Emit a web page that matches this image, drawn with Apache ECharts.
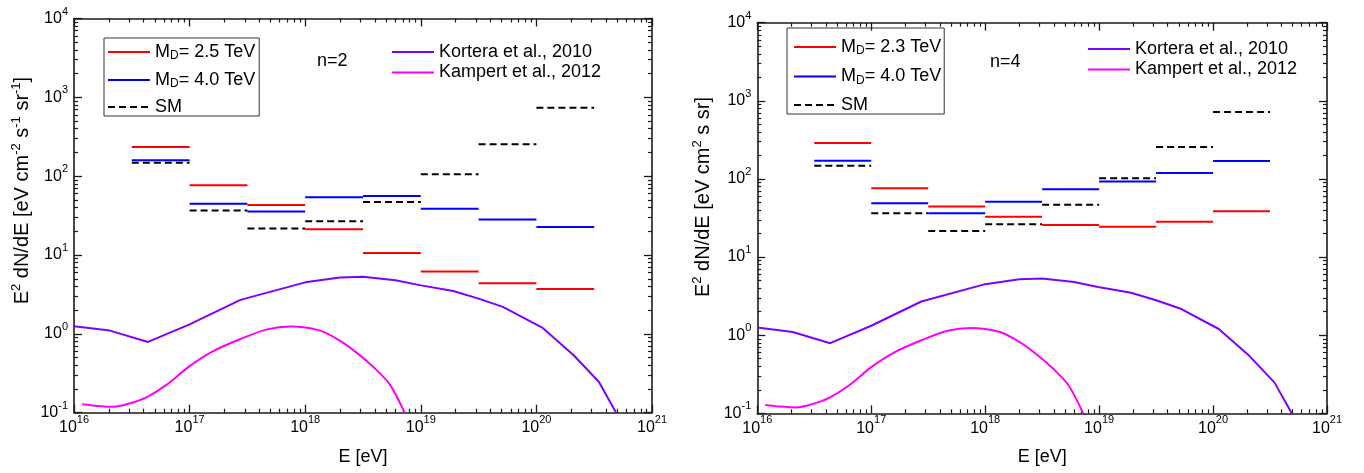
<!DOCTYPE html>
<html>
<head>
<meta charset="utf-8">
<script src="https://cdn.jsdelivr.net/npm/echarts@6/dist/echarts.min.js"></script>
<style>
  html, body { margin: 0; padding: 0; background: #fff; }
  #main { width: 1364px; height: 473px; }
</style>
</head>
<body>
<div id="main"></div>
<script>
// bin edges in log10(E/eV)
var binEdges = [16.5, 17, 17.5, 18, 18.5, 19, 19.5, 20, 20.5];

// n=2 panel
var n2Md25 = [234, 77, 43, 21.3, 10.6, 6.2, 4.4, 3.7];
var n2Md40 = [159, 44.6, 35.7, 54, 56, 38.5, 28.3, 22.6];
var n2Sm = [148, 36.8, 21.7, 26.9, 47, 106, 255, 738];

// n=4 panel
var n4Md23 = [288, 76, 44.5, 32.8, 25.7, 24.5, 28.3, 38.5];
var n4Md40 = [171, 48.7, 36.3, 51, 73.6, 93, 119, 170];
var n4Sm = [148, 36.3, 21.5, 26.3, 46.8, 102, 257, 720];

// reference fluxes (log10 E, value)
var korteraLogE = [16.0, 16.31, 16.64, 17.0, 17.44, 18.0, 18.3, 18.5, 18.78, 18.99, 19.28, 19.5, 19.71, 20.05, 20.32, 20.54, 20.69];
var korteraVal = [1.25, 1.1, 0.79, 1.32, 2.7, 4.5, 5.2, 5.3, 4.8, 4.15, 3.5, 2.8, 2.2, 1.2, 0.54, 0.247, 0.1];
var kampertLogE = [16.07, 16.2, 16.34, 16.48, 16.63, 16.8, 17.0, 17.2, 17.44, 17.67, 17.87, 18.13, 18.3, 18.45, 18.59, 18.73, 18.86];
var kampertVal = [0.128, 0.122, 0.119, 0.131, 0.158, 0.225, 0.39, 0.6, 0.86, 1.14, 1.24, 1.1, 0.82, 0.57, 0.38, 0.23, 0.1];

var xDecades = [16, 17, 18, 19, 20, 21];
var yDecades = [-1, 0, 1, 2, 3, 4];

var FONT = 'Liberation Sans, Arial, sans-serif';

// keep tick values a hair inside the axis extent so the end ticks are not dropped
function majors(decs) {
  var lo = Math.pow(10, decs[0]), hi = Math.pow(10, decs[decs.length - 1]);
  return decs.map(function (d) {
    var v = Math.pow(10, d);
    return Math.min(Math.max(v, lo * (1 + 1e-9)), hi * (1 - 1e-9));
  });
}
function minors(decs) {
  var out = [];
  for (var i = 0; i < decs.length - 1; i++) {
    for (var k = 2; k <= 9; k++) out.push(k * Math.pow(10, decs[i]));
  }
  return out;
}

function binLine(vals) {
  var out = [];
  for (var i = 0; i < vals.length; i++) {
    out.push([Math.pow(10, binEdges[i]), vals[i]]);
    out.push([Math.pow(10, binEdges[i + 1]), vals[i]]);
    if (i < vals.length - 1) out.push([Math.pow(10, binEdges[i + 1]), '-']);
  }
  return out;
}

function curveData(logE, vals) {
  return logE.map(function (e, i) { return [Math.pow(10, e), vals[i]]; });
}

function powLabel(v) {
  var e = Math.round(Math.log(v) / Math.LN10);
  return '{b|10}{s|' + e + '}';
}

var axisColor = '#1a1a1a';

function makeX(gi) {
  var base = {
    gridIndex: gi, type: 'log', logBase: 10, min: 1e16, max: 1e21,
    splitLine: { show: false }
  };
  var line = { show: true, onZero: false, lineStyle: { color: axisColor, width: 1.6 } };
  var noLine = { show: false, onZero: false };
  return [
    Object.assign({}, base, {
      position: 'bottom', axisLine: line,
      axisTick: { inside: true, length: 8, customValues: majors(xDecades), lineStyle: { color: axisColor, width: 1.3 } },
      axisLabel: {
        customValues: majors(xDecades), formatter: powLabel, margin: 6,
        rich: {
          b: { fontSize: 16, lineHeight: 18, fontFamily: FONT, color: '#000' },
          s: { fontSize: 11, lineHeight: 11, padding: [0, 0, 16, 0], fontFamily: FONT, color: '#000' }
        }
      },
      name: 'E [eV]', nameLocation: 'middle', nameGap: 34,
      nameTextStyle: { fontSize: 18, lineHeight: 20, fontFamily: FONT, color: '#000' }
    }),
    Object.assign({}, base, {
      position: 'bottom', axisLine: noLine,
      axisTick: { inside: true, length: 4, customValues: minors(xDecades), lineStyle: { color: axisColor, width: 1.2 } },
      axisLabel: { show: false }
    }),
    Object.assign({}, base, {
      position: 'top', axisLine: line,
      axisTick: { inside: true, length: 8, customValues: majors(xDecades), lineStyle: { color: axisColor, width: 1.3 } },
      axisLabel: { show: false }
    }),
    Object.assign({}, base, {
      position: 'top', axisLine: noLine,
      axisTick: { inside: true, length: 4, customValues: minors(xDecades), lineStyle: { color: axisColor, width: 1.2 } },
      axisLabel: { show: false }
    })
  ];
}

function makeY(gi, nameRich, gap, shift) {
  var base = {
    gridIndex: gi, type: 'log', logBase: 10, min: 0.1, max: 1e4,
    splitLine: { show: false }
  };
  var line = { show: true, onZero: false, lineStyle: { color: axisColor, width: 1.6 } };
  var noLine = { show: false, onZero: false };
  var tx = { fontSize: 20, lineHeight: 22, fontFamily: FONT, color: '#000' };
  var sp = { fontSize: 13, lineHeight: 13, padding: [0, 0, 12, 0], fontFamily: FONT, color: '#000' };
  var first = Object.assign({}, tx, { padding: [0, 0, 0, shift] });
  return [
    Object.assign({}, base, {
      position: 'left', axisLine: line,
      axisTick: { inside: true, length: 8, customValues: majors(yDecades), lineStyle: { color: axisColor, width: 1.3 } },
      axisLabel: {
        customValues: majors(yDecades), formatter: powLabel, margin: 6,
        rich: {
          b: { fontSize: 16, lineHeight: 18, fontFamily: FONT, color: '#000' },
          s: { fontSize: 11, lineHeight: 11, padding: [0, 0, 14, 0], fontFamily: FONT, color: '#000' }
        }
      },
      name: nameRich, nameLocation: 'middle', nameGap: gap,
      nameTextStyle: { rich: { f: first, t: tx, s: sp } }
    }),
    Object.assign({}, base, {
      position: 'left', axisLine: noLine,
      axisTick: { inside: true, length: 4, customValues: minors(yDecades), lineStyle: { color: axisColor, width: 1.2 } },
      axisLabel: { show: false }
    }),
    Object.assign({}, base, {
      position: 'right', axisLine: line,
      axisTick: { inside: true, length: 8, customValues: majors(yDecades), lineStyle: { color: axisColor, width: 1.3 } },
      axisLabel: { show: false }
    }),
    Object.assign({}, base, {
      position: 'right', axisLine: noLine,
      axisTick: { inside: true, length: 4, customValues: minors(yDecades), lineStyle: { color: axisColor, width: 1.2 } },
      axisLabel: { show: false }
    })
  ];
}

function bins(name, vals, color, gi, dashed) {
  return {
    name: name, type: 'line', xAxisIndex: gi * 4, yAxisIndex: gi * 4,
    data: binLine(vals), symbol: 'none', silent: true, z: 3,
    lineStyle: { color: color, width: 2, type: dashed ? [7, 4] : 'solid' },
    itemStyle: { color: color }
  };
}

function curve(name, logE, vals, color, gi, smooth) {
  return {
    name: name, type: 'line', xAxisIndex: gi * 4, yAxisIndex: gi * 4,
    data: curveData(logE, vals), symbol: 'none', silent: true, z: 2,
    smooth: smooth,
    lineStyle: { color: color, width: 2 },
    itemStyle: { color: color }
  };
}

function legendFmt(name) {
  if (name.indexOf('M_D') === 0) return '{t|M}{sub|D}{t|' + name.slice(3) + '}';
  return '{t|' + name + '}';
}
var legendRich = {
  t: { fontSize: 18, lineHeight: 20, fontFamily: FONT, color: '#000' },
  sub: { fontSize: 12, lineHeight: 12, padding: [8, 0, 0, 0], fontFamily: FONT, color: '#000' }
};

function legendBox(names, left, top, pad, gap, boxed) {
  return {
    data: names, orient: 'vertical', left: left, top: top,
    padding: pad, itemGap: gap, itemWidth: 42, itemHeight: 20,
    borderColor: boxed ? '#333' : 'transparent', borderWidth: boxed ? 1 : 0,
    itemStyle: { opacity: 0 },
    formatter: legendFmt, textStyle: { rich: legendRich }
  };
}

var RED = '#ff0000', BLUE = '#0000ff', PURPLE = '#8000ff', MAGENTA = '#ff00ff';
var KORTERA = 'Kortera et al., 2010', KAMPERT = 'Kampert et al., 2012';

var myChart = echarts.init(document.getElementById('main'));
var option = {
  animation: false,
  backgroundColor: '#fff',
  title: [
    { text: 'n=2', left: 317, top: 52, padding: 0, textStyle: { fontSize: 18, fontWeight: 'normal', fontFamily: FONT, color: '#000' } },
    { text: 'n=4', left: 990, top: 53, padding: 0, textStyle: { fontSize: 18, fontWeight: 'normal', fontFamily: FONT, color: '#000' } }
  ],
  legend: [
    legendBox(['M_D= 2.5 TeV', 'M_D= 4.0 TeV', 'SM'], 104, 38, [4, 4, 0, 3], 8, true),
    legendBox([KORTERA, KAMPERT], 391, 43, 0, 2.5, false),
    legendBox(['M_D= 2.3 TeV', 'M_D= 4.0 TeV', 'SM'], 787, 28, [9, 3, 0, 6], 9.5, true),
    legendBox([KORTERA, KAMPERT], 1087, 40, 0, 2.5, false)
  ],
  grid: [
    { left: 74, top: 18.5, width: 578, height: 394.2, outerBoundsMode: 'none' },
    { left: 757.3, top: 22.7, width: 569.7, height: 390.6, outerBoundsMode: 'none' }
  ],
  xAxis: makeX(0).concat(makeX(1)),
  yAxis: makeY(0, '{f|E}{s|2}{t| dN/dE [eV cm}{s|-2}{t| s}{s|-1}{t| sr}{s|-1}{t|]}', 41, 50)
    .concat(makeY(1, '{f|E}{s|2}{t| dN/dE [eV cm}{s|2}{t| s sr]}', 43, 42)),
  series: [
    curve(KORTERA, korteraLogE, korteraVal, PURPLE, 0, false),
    curve(KAMPERT, kampertLogE, kampertVal, MAGENTA, 0, 0.3),
    bins('SM', n2Sm, '#000', 0, true),
    bins('M_D= 4.0 TeV', n2Md40, BLUE, 0, false),
    bins('M_D= 2.5 TeV', n2Md25, RED, 0, false),

    curve(KORTERA, korteraLogE, korteraVal, PURPLE, 1, false),
    curve(KAMPERT, kampertLogE, kampertVal, MAGENTA, 1, 0.3),
    bins('SM', n4Sm, '#000', 1, true),
    bins('M_D= 4.0 TeV', n4Md40, BLUE, 1, false),
    bins('M_D= 2.3 TeV', n4Md23, RED, 1, false)
  ]
};
myChart.setOption(option);
window.addEventListener('resize', function () {
  myChart.resize();
});
</script>
</body>
</html>
